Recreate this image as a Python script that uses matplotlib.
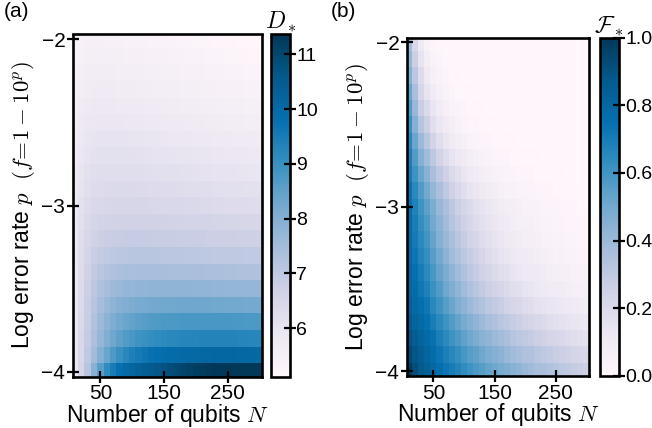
import numpy as np
import matplotlib
matplotlib.use("Agg")
import matplotlib.pyplot as plt

plt.rcParams["font.family"] = ["Liberation Sans", "DejaVu Sans"]
plt.rcParams["mathtext.fontset"] = "cm"

# grid: number of qubits (columns) and log10 error rate (rows, bottom to top)
n_qubits = [10, 20, 30, 40, 50, 60, 70, 80, 90, 100,
            110, 120, 130, 140, 150, 160, 170, 180, 190, 200,
            210, 220, 230, 240, 250, 260, 270, 280, 290, 300]
log_error = [-4.0, -3.9, -3.8, -3.7, -3.6, -3.5, -3.4, -3.3, -3.2, -3.1, -3.0,
             -2.9, -2.8, -2.7, -2.6, -2.5, -2.4, -2.3, -2.2, -2.1, -2.0]

# optimal depth D_* (one row per error rate)
depth_star = [
    [5.92, 6.50, 7.15, 7.90, 8.60, 9.10, 9.50, 9.80, 10.00, 10.15, 10.30, 10.42, 10.54, 10.65, 10.75, 10.85, 10.95, 11.05, 11.13, 11.20, 11.26, 11.30, 11.33, 11.35, 11.36, 11.36, 11.36, 11.35, 11.34, 11.33],
    [5.92, 6.45, 7.00, 7.52, 7.98, 8.38, 8.72, 9.00, 9.22, 9.40, 9.54, 9.65, 9.74, 9.82, 9.88, 9.93, 9.97, 10.01, 10.04, 10.06, 10.08, 10.09, 10.10, 10.10, 10.10, 10.10, 10.09, 10.08, 10.07, 10.06],
    [5.93, 6.42, 6.90, 7.34, 7.72, 8.04, 8.30, 8.51, 8.67, 8.80, 8.90, 8.98, 9.05, 9.11, 9.16, 9.20, 9.23, 9.25, 9.27, 9.28, 9.29, 9.30, 9.30, 9.30, 9.30, 9.29, 9.28, 9.27, 9.26, 9.25],
    [5.93, 6.40, 6.85, 7.26, 7.60, 7.87, 8.08, 8.24, 8.37, 8.47, 8.55, 8.61, 8.66, 8.70, 8.73, 8.75, 8.77, 8.78, 8.79, 8.80, 8.80, 8.80, 8.79, 8.79, 8.78, 8.77, 8.76, 8.75, 8.74, 8.73],
    [5.93, 6.38, 6.80, 7.16, 7.45, 7.67, 7.83, 7.95, 8.04, 8.11, 8.16, 8.20, 8.23, 8.25, 8.27, 8.28, 8.29, 8.30, 8.30, 8.30, 8.29, 8.29, 8.28, 8.27, 8.26, 8.25, 8.24, 8.23, 8.22, 8.21],
    [5.93, 6.35, 6.74, 7.06, 7.29, 7.45, 7.57, 7.65, 7.71, 7.75, 7.78, 7.80, 7.81, 7.82, 7.82, 7.82, 7.82, 7.81, 7.81, 7.80, 7.79, 7.78, 7.77, 7.76, 7.75, 7.74, 7.73, 7.72, 7.71, 7.70],
    [5.92, 6.32, 6.66, 6.93, 7.11, 7.23, 7.31, 7.36, 7.39, 7.41, 7.42, 7.42, 7.42, 7.42, 7.42, 7.41, 7.41, 7.40, 7.39, 7.38, 7.37, 7.36, 7.35, 7.34, 7.33, 7.32, 7.31, 7.30, 7.29, 7.28],
    [5.91, 6.28, 6.58, 6.80, 6.94, 7.02, 7.06, 7.08, 7.09, 7.10, 7.10, 7.10, 7.10, 7.10, 7.09, 7.08, 7.08, 7.07, 7.06, 7.05, 7.04, 7.03, 7.02, 7.01, 7.00, 6.99, 6.98, 6.97, 6.96, 6.95],
    [5.90, 6.24, 6.48, 6.65, 6.74, 6.80, 6.83, 6.85, 6.86, 6.86, 6.86, 6.86, 6.86, 6.85, 6.84, 6.83, 6.82, 6.81, 6.80, 6.79, 6.78, 6.77, 6.76, 6.75, 6.74, 6.73, 6.72, 6.71, 6.71, 6.70],
    [5.89, 6.19, 6.39, 6.52, 6.59, 6.63, 6.66, 6.67, 6.67, 6.67, 6.67, 6.67, 6.66, 6.65, 6.64, 6.63, 6.62, 6.61, 6.60, 6.59, 6.57, 6.56, 6.55, 6.54, 6.53, 6.52, 6.51, 6.50, 6.49, 6.48],
    [5.87, 6.13, 6.29, 6.39, 6.44, 6.47, 6.49, 6.50, 6.50, 6.50, 6.50, 6.49, 6.48, 6.46, 6.45, 6.44, 6.43, 6.42, 6.40, 6.39, 6.38, 6.37, 6.36, 6.35, 6.33, 6.32, 6.31, 6.30, 6.28, 6.27],
    [5.84, 6.07, 6.21, 6.29, 6.33, 6.36, 6.37, 6.37, 6.37, 6.37, 6.36, 6.34, 6.33, 6.32, 6.31, 6.29, 6.28, 6.27, 6.26, 6.24, 6.23, 6.22, 6.21, 6.19, 6.18, 6.17, 6.16, 6.14, 6.13, 6.12],
    [5.80, 6.01, 6.13, 6.20, 6.23, 6.25, 6.25, 6.25, 6.25, 6.24, 6.22, 6.21, 6.20, 6.19, 6.17, 6.16, 6.15, 6.13, 6.12, 6.11, 6.09, 6.08, 6.07, 6.06, 6.04, 6.03, 6.02, 6.00, 5.99, 5.98],
    [5.75, 5.94, 6.05, 6.10, 6.13, 6.14, 6.14, 6.14, 6.13, 6.12, 6.10, 6.09, 6.08, 6.06, 6.05, 6.04, 6.02, 6.01, 6.00, 5.98, 5.97, 5.96, 5.94, 5.93, 5.92, 5.90, 5.89, 5.88, 5.86, 5.85],
    [5.70, 5.87, 5.96, 6.01, 6.03, 6.04, 6.04, 6.04, 6.03, 6.01, 6.00, 5.98, 5.97, 5.95, 5.94, 5.92, 5.91, 5.89, 5.88, 5.86, 5.85, 5.83, 5.82, 5.80, 5.79, 5.77, 5.76, 5.74, 5.73, 5.72],
    [5.65, 5.80, 5.88, 5.92, 5.94, 5.94, 5.94, 5.93, 5.91, 5.90, 5.88, 5.87, 5.85, 5.84, 5.82, 5.81, 5.79, 5.78, 5.76, 5.75, 5.73, 5.72, 5.70, 5.69, 5.67, 5.66, 5.64, 5.63, 5.61, 5.60],
    [5.60, 5.73, 5.80, 5.83, 5.84, 5.84, 5.84, 5.82, 5.81, 5.79, 5.78, 5.76, 5.75, 5.73, 5.72, 5.70, 5.69, 5.67, 5.66, 5.64, 5.63, 5.61, 5.60, 5.58, 5.57, 5.55, 5.54, 5.52, 5.51, 5.49],
    [5.55, 5.66, 5.72, 5.74, 5.75, 5.75, 5.74, 5.72, 5.71, 5.69, 5.68, 5.66, 5.65, 5.63, 5.62, 5.60, 5.59, 5.57, 5.56, 5.54, 5.53, 5.51, 5.50, 5.48, 5.47, 5.45, 5.44, 5.42, 5.41, 5.39],
    [5.50, 5.59, 5.64, 5.66, 5.66, 5.66, 5.65, 5.63, 5.62, 5.60, 5.59, 5.57, 5.56, 5.54, 5.53, 5.51, 5.50, 5.48, 5.47, 5.45, 5.44, 5.42, 5.41, 5.39, 5.38, 5.36, 5.35, 5.33, 5.32, 5.30],
    [5.45, 5.53, 5.57, 5.58, 5.58, 5.57, 5.55, 5.54, 5.52, 5.51, 5.49, 5.48, 5.46, 5.45, 5.44, 5.42, 5.41, 5.39, 5.38, 5.36, 5.35, 5.33, 5.32, 5.30, 5.29, 5.28, 5.26, 5.25, 5.23, 5.22],
    [5.40, 5.47, 5.50, 5.50, 5.49, 5.47, 5.46, 5.45, 5.43, 5.42, 5.41, 5.39, 5.38, 5.36, 5.35, 5.34, 5.32, 5.31, 5.30, 5.28, 5.27, 5.26, 5.24, 5.23, 5.22, 5.20, 5.19, 5.17, 5.15, 5.12],
]

# fidelity F_* at the optimal depth (one row per error rate)
fidelity_star = [
    [0.98, 0.92, 0.87, 0.84, 0.80, 0.76, 0.73, 0.70, 0.67, 0.64, 0.61, 0.58, 0.56, 0.53, 0.51, 0.49, 0.47, 0.45, 0.43, 0.41, 0.39, 0.37, 0.36, 0.34, 0.33, 0.31, 0.30, 0.28, 0.27, 0.26],
    [0.94, 0.89, 0.85, 0.81, 0.77, 0.73, 0.69, 0.66, 0.63, 0.59, 0.56, 0.54, 0.51, 0.48, 0.46, 0.44, 0.41, 0.39, 0.37, 0.35, 0.34, 0.32, 0.30, 0.29, 0.27, 0.26, 0.25, 0.23, 0.22, 0.21],
    [0.90, 0.86, 0.82, 0.78, 0.74, 0.69, 0.65, 0.61, 0.58, 0.54, 0.51, 0.48, 0.45, 0.43, 0.40, 0.38, 0.36, 0.33, 0.31, 0.30, 0.28, 0.26, 0.25, 0.23, 0.22, 0.21, 0.19, 0.18, 0.17, 0.16],
    [0.86, 0.82, 0.79, 0.75, 0.70, 0.65, 0.61, 0.57, 0.53, 0.49, 0.46, 0.43, 0.40, 0.37, 0.35, 0.32, 0.30, 0.28, 0.26, 0.24, 0.23, 0.21, 0.20, 0.18, 0.17, 0.16, 0.15, 0.14, 0.13, 0.12],
    [0.83, 0.79, 0.76, 0.72, 0.66, 0.61, 0.56, 0.52, 0.47, 0.44, 0.40, 0.37, 0.34, 0.31, 0.29, 0.27, 0.24, 0.22, 0.21, 0.19, 0.18, 0.16, 0.15, 0.14, 0.13, 0.12, 0.11, 0.10, 0.09, 0.08],
    [0.81, 0.77, 0.72, 0.68, 0.62, 0.57, 0.51, 0.47, 0.43, 0.39, 0.35, 0.32, 0.29, 0.26, 0.24, 0.22, 0.20, 0.18, 0.17, 0.15, 0.14, 0.12, 0.11, 0.10, 0.09, 0.09, 0.08, 0.07, 0.06, 0.06],
    [0.80, 0.75, 0.70, 0.65, 0.59, 0.53, 0.48, 0.43, 0.39, 0.35, 0.31, 0.28, 0.25, 0.23, 0.20, 0.18, 0.17, 0.15, 0.13, 0.12, 0.11, 0.10, 0.09, 0.08, 0.07, 0.06, 0.06, 0.05, 0.05, 0.04],
    [0.79, 0.73, 0.67, 0.63, 0.56, 0.50, 0.44, 0.39, 0.35, 0.31, 0.28, 0.25, 0.22, 0.19, 0.17, 0.15, 0.14, 0.12, 0.11, 0.10, 0.09, 0.08, 0.07, 0.06, 0.05, 0.05, 0.04, 0.04, 0.03, 0.03],
    [0.78, 0.71, 0.65, 0.60, 0.53, 0.46, 0.41, 0.36, 0.32, 0.28, 0.24, 0.22, 0.19, 0.17, 0.15, 0.13, 0.11, 0.10, 0.09, 0.08, 0.07, 0.06, 0.05, 0.05, 0.04, 0.04, 0.03, 0.03, 0.02, 0.02],
    [0.77, 0.70, 0.63, 0.58, 0.50, 0.44, 0.38, 0.33, 0.29, 0.25, 0.22, 0.19, 0.17, 0.15, 0.13, 0.11, 0.10, 0.08, 0.07, 0.06, 0.06, 0.05, 0.04, 0.04, 0.03, 0.03, 0.02, 0.02, 0.02, 0.02],
    [0.76, 0.68, 0.61, 0.55, 0.48, 0.41, 0.36, 0.31, 0.26, 0.23, 0.20, 0.17, 0.15, 0.13, 0.11, 0.09, 0.08, 0.07, 0.06, 0.05, 0.05, 0.04, 0.03, 0.03, 0.03, 0.02, 0.02, 0.02, 0.01, 0.01],
    [0.74, 0.65, 0.57, 0.50, 0.42, 0.36, 0.30, 0.25, 0.21, 0.18, 0.15, 0.13, 0.11, 0.09, 0.08, 0.06, 0.05, 0.05, 0.04, 0.03, 0.03, 0.02, 0.02, 0.02, 0.01, 0.01, 0.01, 0.01, 0.01, 0.01],
    [0.71, 0.61, 0.52, 0.45, 0.37, 0.30, 0.25, 0.20, 0.17, 0.14, 0.11, 0.09, 0.07, 0.06, 0.05, 0.04, 0.03, 0.03, 0.02, 0.02, 0.02, 0.01, 0.01, 0.01, 0.01, 0.01, 0.00, 0.00, 0.00, 0.00],
    [0.69, 0.57, 0.46, 0.39, 0.31, 0.24, 0.19, 0.15, 0.12, 0.10, 0.08, 0.06, 0.05, 0.04, 0.03, 0.02, 0.02, 0.01, 0.01, 0.01, 0.01, 0.01, 0.00, 0.00, 0.00, 0.00, 0.00, 0.00, 0.00, 0.00],
    [0.66, 0.52, 0.40, 0.32, 0.24, 0.18, 0.14, 0.10, 0.08, 0.06, 0.04, 0.03, 0.02, 0.02, 0.01, 0.01, 0.01, 0.01, 0.00, 0.00, 0.00, 0.00, 0.00, 0.00, 0.00, 0.00, 0.00, 0.00, 0.00, 0.00],
    [0.62, 0.46, 0.33, 0.26, 0.18, 0.13, 0.09, 0.07, 0.05, 0.03, 0.02, 0.02, 0.01, 0.01, 0.01, 0.00, 0.00, 0.00, 0.00, 0.00, 0.00, 0.00, 0.00, 0.00, 0.00, 0.00, 0.00, 0.00, 0.00, 0.00],
    [0.57, 0.41, 0.27, 0.20, 0.14, 0.09, 0.06, 0.04, 0.03, 0.02, 0.01, 0.01, 0.01, 0.00, 0.00, 0.00, 0.00, 0.00, 0.00, 0.00, 0.00, 0.00, 0.00, 0.00, 0.00, 0.00, 0.00, 0.00, 0.00, 0.00],
    [0.52, 0.36, 0.22, 0.15, 0.10, 0.06, 0.04, 0.02, 0.01, 0.01, 0.01, 0.00, 0.00, 0.00, 0.00, 0.00, 0.00, 0.00, 0.00, 0.00, 0.00, 0.00, 0.00, 0.00, 0.00, 0.00, 0.00, 0.00, 0.00, 0.00],
    [0.46, 0.31, 0.19, 0.11, 0.06, 0.04, 0.02, 0.01, 0.01, 0.00, 0.00, 0.00, 0.00, 0.00, 0.00, 0.00, 0.00, 0.00, 0.00, 0.00, 0.00, 0.00, 0.00, 0.00, 0.00, 0.00, 0.00, 0.00, 0.00, 0.00],
    [0.42, 0.26, 0.15, 0.08, 0.04, 0.02, 0.01, 0.01, 0.00, 0.00, 0.00, 0.00, 0.00, 0.00, 0.00, 0.00, 0.00, 0.00, 0.00, 0.00, 0.00, 0.00, 0.00, 0.00, 0.00, 0.00, 0.00, 0.00, 0.00, 0.00],
    [0.38, 0.21, 0.11, 0.05, 0.02, 0.01, 0.01, 0.00, 0.00, 0.00, 0.00, 0.00, 0.00, 0.00, 0.00, 0.00, 0.00, 0.00, 0.00, 0.00, 0.00, 0.00, 0.00, 0.00, 0.00, 0.00, 0.00, 0.00, 0.00, 0.00],
]

x_ticks = [50, 150, 250]
y_ticks = [-4, -3, -2]
depth_ticks = [6, 7, 8, 9, 10, 11]
fidelity_ticks = [0.0, 0.2, 0.4, 0.6, 0.8, 1.0]


def cell_edges(centers):
    c = np.asarray(centers, dtype=float)
    mid = 0.5 * (c[:-1] + c[1:])
    return np.concatenate([[c[0] - (mid[0] - c[0])], mid, [c[-1] + (c[-1] - mid[-1])]])


W, H = 652, 428
fig = plt.figure(figsize=(W / 100, H / 100), dpi=100)


def box(left, top, right, bottom):
    return [left / W, 1 - bottom / H, (right - left) / W, (bottom - top) / H]


def draw_panel(ax, cax, values, vmin, vmax, cticks, ctitle, tag, tag_x):
    Z = np.asarray(values, dtype=float)
    mesh = ax.pcolormesh(cell_edges(n_qubits), cell_edges(log_error), Z,
                         cmap="PuBu", vmin=vmin, vmax=vmax, shading="flat",
                         antialiased=False, linewidth=0)
    ax.set_xlim(7, 304)
    ax.set_ylim(-4.03, -1.97)
    ax.set_xticks(x_ticks)
    ax.set_yticks(y_ticks)
    ax.tick_params(direction="inout", length=8, width=1.6, labelsize=15, pad=1.5)
    for s in ax.spines.values():
        s.set_linewidth(1.9)
    ax.set_xlabel(r"Number of qubits $N$", fontsize=16.5, labelpad=-1)
    ax.set_ylabel(r"Log error rate $p$  $(f\!=\!1-10^p)$", fontsize=16.5, labelpad=3)

    cb = fig.colorbar(mesh, cax=cax)
    cb.set_ticks(cticks)
    cb.outline.set_linewidth(1.9)
    cax.tick_params(direction="inout", length=8, width=1.6, labelsize=14, pad=0.5)
    cax.set_title(ctitle, fontsize=17, pad=1)

    fig.text(tag_x / W, 1 - 2 / H, tag, fontsize=15, ha="left", va="top")


ax_a = fig.add_axes(box(73, 34.5, 262, 376.5))
cax_a = fig.add_axes(box(271, 34.5, 290, 376.5))
ax_b = fig.add_axes(box(407, 37.5, 589, 376))
cax_b = fig.add_axes(box(600, 37.5, 619, 376))

D = np.asarray(depth_star, dtype=float)
draw_panel(ax_a, cax_a, D, D.min(), D.max(), depth_ticks, r"$D_*$", "(a)", 4)
draw_panel(ax_b, cax_b, fidelity_star, 0.0, 1.0, fidelity_ticks, r"$\mathcal{F}_*$", "(b)", 331)

fig.savefig("out.png", dpi=100)
